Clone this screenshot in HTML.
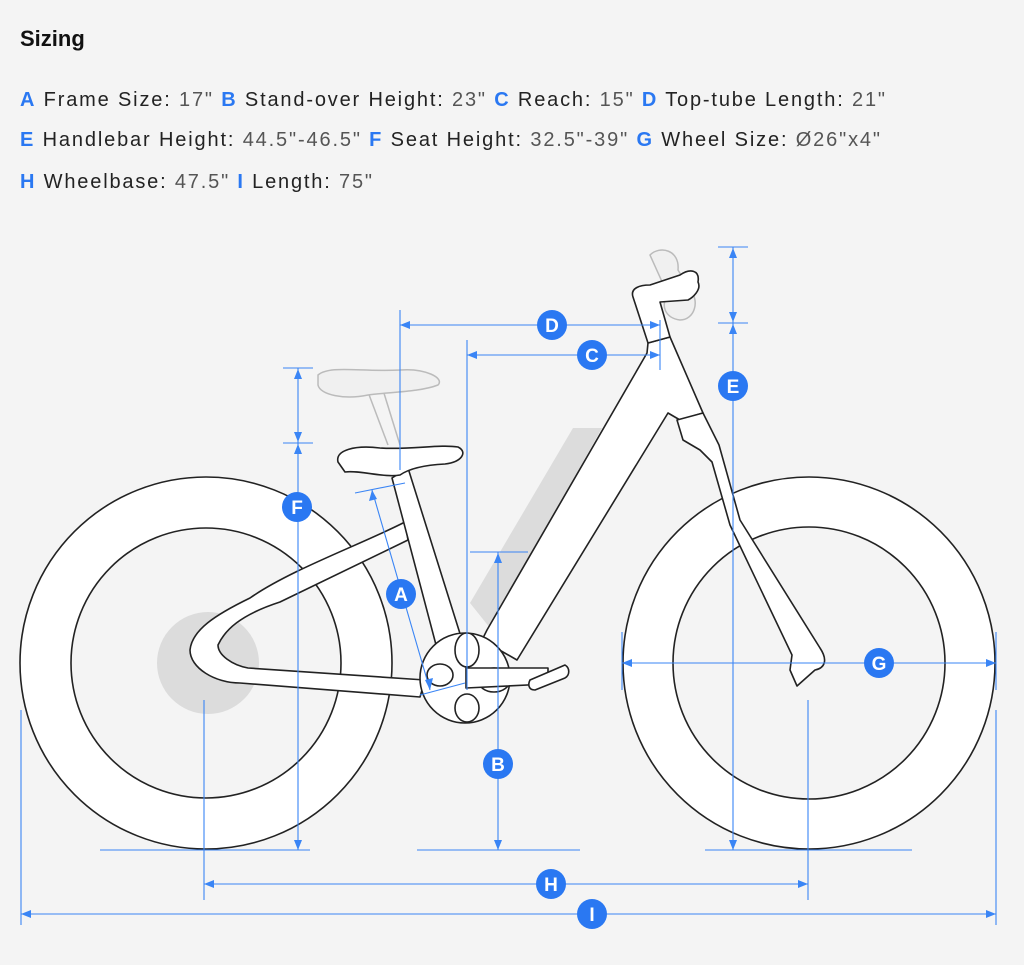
<!DOCTYPE html>
<html><head><meta charset="utf-8"><style>
html,body{margin:0;padding:0;background:#f4f4f4;}
svg{display:block}
text{font-family:"Liberation Sans",sans-serif}
</style></head><body>
<svg width="1024" height="965" viewBox="0 0 1024 965" xmlns="http://www.w3.org/2000/svg">
<rect width="1024" height="965" fill="#f4f4f4"/>
<text x="20" y="46" font-size="22" font-weight="bold" fill="#111">Sizing</text>
<g font-size="20" fill="#222">
<text x="20" y="106" textLength="865" lengthAdjust="spacing"><tspan fill="#2a78f2" font-weight="bold">A</tspan> Frame Size: <tspan fill="#555">17"</tspan>  <tspan fill="#2a78f2" font-weight="bold">B</tspan> Stand-over Height: <tspan fill="#555">23"</tspan>  <tspan fill="#2a78f2" font-weight="bold">C</tspan> Reach: <tspan fill="#555">15"</tspan>  <tspan fill="#2a78f2" font-weight="bold">D</tspan> Top-tube Length: <tspan fill="#555">21"</tspan></text>
<text x="20" y="146" textLength="860" lengthAdjust="spacing"><tspan fill="#2a78f2" font-weight="bold">E</tspan> Handlebar Height: <tspan fill="#555">44.5"-46.5"</tspan>  <tspan fill="#2a78f2" font-weight="bold">F</tspan> Seat Height: <tspan fill="#555">32.5"-39"</tspan>  <tspan fill="#2a78f2" font-weight="bold">G</tspan> Wheel Size: <tspan fill="#555">Ø26"x4"</tspan></text>
<text x="20" y="188" textLength="352" lengthAdjust="spacing"><tspan fill="#2a78f2" font-weight="bold">H</tspan> Wheelbase: <tspan fill="#555">47.5"</tspan>  <tspan fill="#2a78f2" font-weight="bold">I</tspan> Length: <tspan fill="#555">75"</tspan></text>
</g>

<!-- wheels -->
<g stroke="#222" stroke-width="1.6">
<circle cx="206" cy="663" r="186" fill="#fff"/>
<circle cx="206" cy="663" r="135" fill="#f4f4f4"/>
<circle cx="809" cy="663" r="186" fill="#fff"/>
<circle cx="809" cy="663" r="136" fill="#f4f4f4"/>
</g>
<circle cx="208" cy="663" r="51" fill="#dcdcdc"/>
<!-- battery -->
<polygon points="573,428 602,428 490,628 470,603" fill="#dcdcdc"/>
<!-- ghost seat -->
<g stroke="#bbb" stroke-width="1.5" fill="#f0f0f0">
<line x1="368" y1="392" x2="388" y2="445"/><line x1="383" y1="390" x2="400" y2="445"/>
<path d="M318,375 C330,365 360,372 400,370 C425,368 445,378 438,385 C420,392 390,392 368,395 C345,400 320,395 318,385 Z"/>
<path d="M650,255 C660,245 680,250 678,270 L690,290 C700,300 695,320 680,320 C665,318 660,305 668,295 Z"/>
</g>
<!-- frame -->
<g stroke="#222" stroke-width="1.6" fill="#fff" stroke-linejoin="round">
<path d="M405,522 C360,545 290,570 250,598 C215,615 192,630 190,650 C190,668 215,683 240,683 L420,697 L425,680 L248,668 C232,665 218,655 218,645 C225,630 240,615 280,602 L408,540 Z"/>
<path d="M392,478 L408,468 L462,640 L440,660 Z"/>
<path d="M648,343 L670,337 L703,413 L680,420 L668,413 L517,660 L482,640 L487,630 L647,353 Z"/>
<path d="M633,297 C630,288 640,285 650,285 L680,275 C690,268 700,270 698,282 C702,290 692,298 688,300 L660,302 L670,337 L648,343 Z"/>
<path d="M677,420 L703,413 L719,445 L740,520 L820,648 C828,660 825,668 815,670 L797,686 L790,670 L792,655 L730,525 L712,462 L700,450 L683,440 Z"/>
<path d="M338,462 C335,450 355,445 380,448 C410,450 440,444 458,447 C468,452 462,462 445,464 C425,465 410,468 400,475 C385,478 360,470 345,472 Z"/>
<circle cx="465" cy="678" r="45"/>
<ellipse cx="467" cy="650" rx="12" ry="17" fill="#fff"/>
<ellipse cx="494" cy="680" rx="16" ry="12"/>
<ellipse cx="467" cy="708" rx="12" ry="14"/>
<ellipse cx="440" cy="675" rx="13" ry="11"/>
<path d="M466,668 L548,668 L548,684 L466,688 Z"/>
<path d="M530,680 L565,665 C570,668 570,675 565,678 L535,690 C528,690 528,684 530,680 Z"/>
</g>

<!-- dimensions -->
<g stroke="#3a85f5" stroke-width="1.1" fill="none">
<line x1="400" y1="310" x2="400" y2="470"/>
<line x1="400" y1="325" x2="660" y2="325"/>
<line x1="467" y1="340" x2="467" y2="690"/>
<line x1="467" y1="355" x2="660" y2="355"/>
<line x1="660" y1="320" x2="660" y2="370"/>
<line x1="733" y1="247" x2="733" y2="850"/>
<line x1="718" y1="247" x2="748" y2="247"/><line x1="718" y1="323" x2="748" y2="323"/>
<line x1="298" y1="368" x2="298" y2="850"/>
<line x1="283" y1="368" x2="313" y2="368"/><line x1="283" y1="443" x2="313" y2="443"/>
<line x1="372" y1="490" x2="430" y2="690"/>
<line x1="355" y1="493" x2="405" y2="483"/>
<line x1="420" y1="695" x2="465" y2="683"/>
<line x1="498" y1="552" x2="498" y2="850"/>
<line x1="470" y1="552" x2="528" y2="552"/>
<line x1="622" y1="663" x2="996" y2="663"/>
<line x1="622" y1="632" x2="622" y2="690"/><line x1="996" y1="632" x2="996" y2="690"/>
<line x1="204" y1="700" x2="204" y2="900"/><line x1="808" y1="700" x2="808" y2="900"/>
<line x1="204" y1="884" x2="808" y2="884"/>
<line x1="21" y1="710" x2="21" y2="925"/><line x1="996" y1="710" x2="996" y2="925"/>
<line x1="21" y1="914" x2="996" y2="914"/>
<line x1="100" y1="850" x2="310" y2="850"/>
<line x1="417" y1="850" x2="580" y2="850"/>
<line x1="705" y1="850" x2="912" y2="850"/>
</g>
<g fill="#3a85f5">
<polygon points="400,325 410,321 410,329"/><polygon points="660,325 650,321 650,329"/>
<polygon points="467,355 477,351 477,359"/><polygon points="660,355 650,351 650,359"/>
<polygon points="733,248 729,258 737,258"/><polygon points="733,322 729,312 737,312"/>
<polygon points="733,324 729,334 737,334"/><polygon points="733,850 729,840 737,840"/>
<polygon points="298,369 294,379 302,379"/><polygon points="298,442 294,432 302,432"/>
<polygon points="298,444 294,454 302,454"/><polygon points="298,850 294,840 302,840"/>
<polygon points="498,553 494,563 502,563"/><polygon points="498,850 494,840 502,840"/>
<polygon points="622,663 632,659 632,667"/><polygon points="996,663 986,659 986,667"/>
<polygon points="204,884 214,880 214,888"/><polygon points="808,884 798,880 798,888"/>
<polygon points="21,914 31,910 31,918"/><polygon points="996,914 986,910 986,918"/>
<polygon points="372,490 369,501 377,499"/><polygon points="430,690 425,680 433,678"/>
</g>
<g font-size="19" font-weight="bold" fill="#fff" text-anchor="middle">
<circle cx="552" cy="325" r="15" fill="#2a78f2"/><text x="552" y="332">D</text>
<circle cx="592" cy="355" r="15" fill="#2a78f2"/><text x="592" y="362">C</text>
<circle cx="733" cy="386" r="15" fill="#2a78f2"/><text x="733" y="393">E</text>
<circle cx="297" cy="507" r="15" fill="#2a78f2"/><text x="297" y="514">F</text>
<circle cx="401" cy="594" r="15" fill="#2a78f2"/><text x="401" y="601">A</text>
<circle cx="498" cy="764" r="15" fill="#2a78f2"/><text x="498" y="771">B</text>
<circle cx="879" cy="663" r="15" fill="#2a78f2"/><text x="879" y="670">G</text>
<circle cx="551" cy="884" r="15" fill="#2a78f2"/><text x="551" y="891">H</text>
<circle cx="592" cy="914" r="15" fill="#2a78f2"/><text x="592" y="921">I</text>
</g>
</svg>
</body></html>
